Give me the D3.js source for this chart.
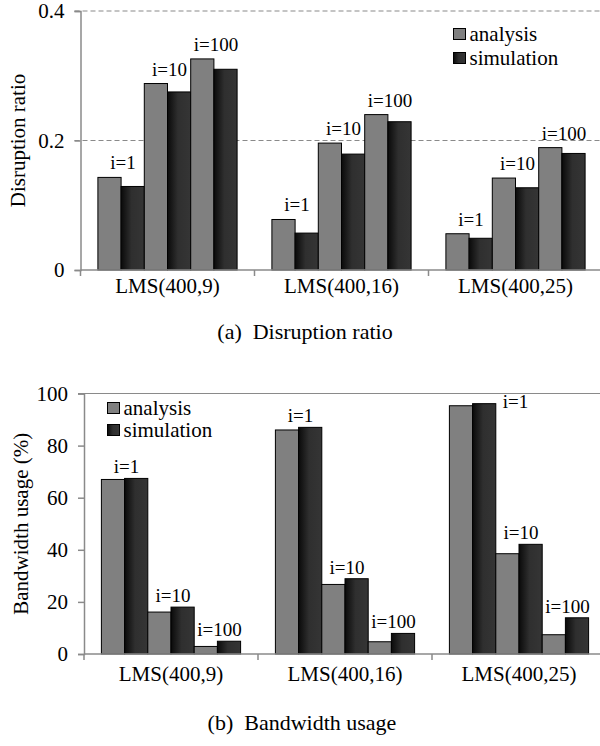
<!DOCTYPE html>
<html>
<head>
<meta charset="utf-8">
<script src="https://cdnjs.cloudflare.com/ajax/libs/d3/7.8.5/d3.min.js"></script>
<style>
  body { margin: 0; background: #fff; }
</style>
</head>
<body>
<div id="chart"></div>
<script>
const categories = ["LMS(400,9)", "LMS(400,16)", "LMS(400,25)"];
const iterations = ["i=1", "i=10", "i=100"];
const seriesNames = ["analysis", "simulation"];

// values listed per category, then per iteration (i=1, i=10, i=100)
const disruptionAnalysis = [0.143, 0.288, 0.326, 0.078, 0.196, 0.240, 0.056, 0.142, 0.189];
const disruptionSimulation = [0.129, 0.275, 0.310, 0.057, 0.179, 0.229, 0.049, 0.127, 0.180];
const bandwidthAnalysis = [67.0, 16.1, 2.9, 86.0, 26.7, 4.7, 95.3, 38.5, 7.4];
const bandwidthSimulation = [67.4, 18.0, 4.9, 87.0, 28.9, 7.9, 96.1, 42.1, 13.9];

const disruptionTicks = [0, 0.2, 0.4];
const bandwidthTicks = [0, 20, 40, 60, 80, 100];

const width = 600;
const height = 746;
const serif = '"Liberation Serif"';

const svg = d3.select("#chart")
    .append("svg")
    .attr("width", width)
    .attr("height", height)
    .attr("font-family", "Liberation Serif");

const defs = svg.append("defs");
const grad = defs.append("linearGradient")
    .attr("id", "simFill")
    .attr("x1", "0%").attr("x2", "100%")
    .attr("y1", "0%").attr("y2", "0%");
grad.append("stop").attr("offset", "0%").attr("stop-color", "#0a0a0a");
grad.append("stop").attr("offset", "45%").attr("stop-color", "#2f2f2f");
grad.append("stop").attr("offset", "100%").attr("stop-color", "#353535");

const fills = ["#808080", "url(#simFill)"];
const axisColor = "#8a8a8a";

function addText(sel) {
    return sel.append("text").style("font-family", serif).attr("fill", "#000");
}

function drawChart(cfg) {
    const g = svg.append("g");

    const x0 = d3.scaleBand()
        .domain(categories)
        .range([cfg.left, cfg.right]);

    const keys = [];
    iterations.forEach(it => seriesNames.forEach(s => keys.push(it + "|" + s)));

    const x1 = d3.scaleBand()
        .domain(keys)
        .range([0, x0.bandwidth()])
        .paddingOuter(0.75);

    const y = d3.scaleLinear()
        .domain([0, cfg.ticks[cfg.ticks.length - 1]])
        .range([cfg.bottom, cfg.top]);

    // gridlines
    g.append("g")
        .selectAll("line")
        .data(cfg.gridValues)
        .enter()
        .append("line")
        .attr("x1", cfg.left - 6)
        .attr("x2", width)
        .attr("y1", d => y(d))
        .attr("y2", d => y(d))
        .attr("stroke", axisColor)
        .attr("stroke-width", 1.2)
        .attr("stroke-dasharray", cfg.gridDash);

    // y axis
    const yAxis = d3.axisLeft(y)
        .tickValues(cfg.ticks)
        .tickSize(6)
        .tickPadding(10)
        .tickFormat(cfg.format);

    const yg = g.append("g")
        .attr("transform", `translate(${cfg.left}, 0)`)
        .call(yAxis)
        .attr("font-family", "Liberation Serif")
        .attr("font-size", 21);
    yg.select(".domain").attr("stroke", axisColor).attr("stroke-width", 1.5);
    yg.selectAll(".tick line").attr("stroke", axisColor).attr("stroke-width", 1.5);
    yg.selectAll(".tick text")
        .style("font-family", serif)
        .attr("fill", "#000");

    // bars
    const rows = [];
    categories.forEach((c, ci) => {
        iterations.forEach((it, ii) => {
            seriesNames.forEach((s, si) => {
                rows.push({
                    cat: c,
                    key: it + "|" + s,
                    series: si,
                    value: cfg.values[si][ci * iterations.length + ii]
                });
            });
        });
    });

    g.append("g")
        .selectAll("rect")
        .data(rows)
        .enter()
        .append("rect")
        .attr("x", d => x0(d.cat) + x1(d.key))
        .attr("y", d => y(d.value))
        .attr("width", x1.bandwidth())
        .attr("height", d => y(0) - y(d.value))
        .attr("fill", d => fills[d.series])
        .attr("stroke", "#000")
        .attr("stroke-width", 1);

    // x axis line and category boundary ticks
    g.append("line")
        .attr("x1", cfg.left).attr("x2", width)
        .attr("y1", y(0)).attr("y2", y(0))
        .attr("stroke", axisColor)
        .attr("stroke-width", 1.5);

    const bounds = categories.map(c => x0(c)).concat([cfg.right]);
    g.append("g")
        .selectAll("line")
        .data(bounds)
        .enter()
        .append("line")
        .attr("x1", d => d).attr("x2", d => d)
        .attr("y1", y(0)).attr("y2", y(0) + 6)
        .attr("stroke", axisColor)
        .attr("stroke-width", 1.5);

    categories.forEach(c => {
        addText(g)
            .attr("x", x0(c) + x0.bandwidth() / 2)
            .attr("y", cfg.catLabelY)
            .attr("text-anchor", "middle")
            .attr("font-size", 21)
            .text(c);
    });

    // iteration labels above each analysis/simulation pair
    categories.forEach((c, ci) => {
        iterations.forEach((it, ii) => {
            const idx = ci * iterations.length + ii;
            const top = Math.max(cfg.values[0][idx], cfg.values[1][idx]);
            const xa = x0(c) + x1(it + "|analysis");
            const xs = x0(c) + x1(it + "|simulation") + x1.bandwidth();
            const yt = y(top);
            const t = addText(g).attr("font-size", 19).text(it);
            if (yt - cfg.labelGap - 14 < cfg.top) {
                t.attr("x", xs + 7).attr("y", yt + 4).attr("text-anchor", "start");
            } else {
                t.attr("x", (xa + xs) / 2 + 2).attr("y", yt - cfg.labelGap).attr("text-anchor", "middle");
            }
        });
    });

    // y axis title
    addText(g)
        .attr("transform", `translate(${cfg.titleX}, ${(cfg.top + cfg.bottom) / 2}) rotate(-90)`)
        .attr("text-anchor", "middle")
        .attr("font-size", 21)
        .text(cfg.yTitle);

    // legend
    const legend = g.append("g")
        .attr("transform", `translate(${cfg.legendX}, ${cfg.legendY})`);
    seriesNames.forEach((s, i) => {
        legend.append("rect")
            .attr("x", 0)
            .attr("y", i * cfg.legendStep)
            .attr("width", 12)
            .attr("height", 11)
            .attr("fill", fills[i])
            .attr("stroke", "#000")
            .attr("stroke-width", 1);
        addText(legend)
            .attr("x", 16)
            .attr("y", i * cfg.legendStep + 12)
            .attr("font-size", 21)
            .text(s);
    });

    // caption
    addText(g)
        .attr("x", cfg.captionX)
        .attr("y", cfg.captionY)
        .attr("text-anchor", "middle")
        .attr("font-size", 22)
        .style("white-space", "pre")
        .text(cfg.caption);
}

drawChart({
    values: [disruptionAnalysis, disruptionSimulation],
    ticks: disruptionTicks,
    format: d => d === 0 ? "0" : d3.format(".1f")(d),
    gridValues: [0.2, 0.4],
    gridDash: "5,3",
    left: 80.5, right: 602.5, top: 11, bottom: 270,
    catLabelY: 293,
    labelGap: 8,
    yTitle: "Disruption ratio",
    titleX: 25,
    legendX: 453.5, legendY: 28.5, legendStep: 24,
    caption: "(a)  Disruption ratio",
    captionX: 305, captionY: 339
});

drawChart({
    values: [bandwidthAnalysis, bandwidthSimulation],
    ticks: bandwidthTicks,
    format: d3.format("d"),
    gridValues: [100],
    gridDash: null,
    left: 84, right: 606, top: 393.5, bottom: 654,
    catLabelY: 681,
    labelGap: 5,
    yTitle: "Bandwidth usage (%)",
    titleX: 28,
    legendX: 107.5, legendY: 402.5, legendStep: 22,
    caption: "(b)  Bandwidth usage",
    captionX: 302, captionY: 730
});
</script>
</body>
</html>
